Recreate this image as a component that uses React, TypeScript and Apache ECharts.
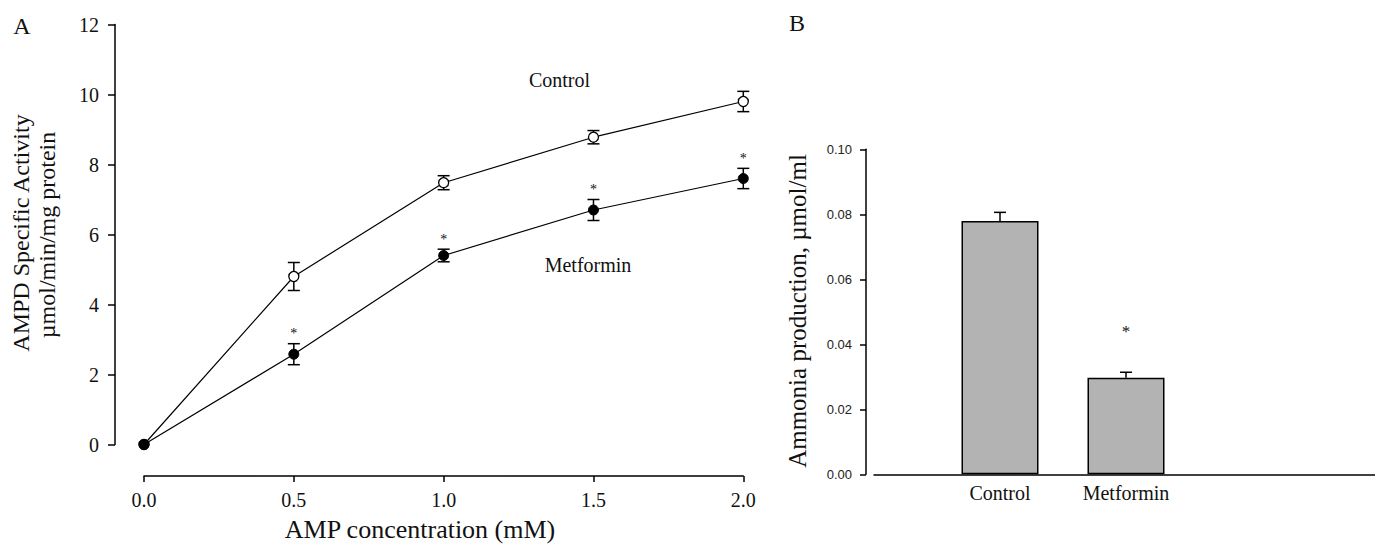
import React, { useEffect, useRef } from "react";
import * as echarts from "echarts";

// ---------- Panel A data ----------
const ampConcentration = [0, 0.5, 1.0, 1.5, 2.0];
const controlActivity = [0, 4.8, 7.48, 8.78, 9.8];
const controlActivitySE = [0, 0.4, 0.2, 0.19, 0.29];
const metforminActivity = [0, 2.58, 5.4, 6.7, 7.6];
const metforminActivitySE = [0, 0.3, 0.18, 0.3, 0.29];
const metforminSignificant = [false, true, true, true, true];

// ---------- Panel B data ----------
const groupsB = ["Control", "Metformin"];
const ammoniaProduction = [0.0779, 0.0297];
const ammoniaSE = [0.0027, 0.0017];
const ammoniaSignificant = [false, true];

const SERIF = "'Liberation Serif', 'Times New Roman', Times, serif";
const SANS = "'Liberation Sans', Arial, Helvetica, sans-serif";
const INK = "#111";

function errorBarsA(params: any, api: any) {
  const x = api.value(0);
  const m = api.value(1);
  const se = api.value(2);
  const sig = api.value(3);
  const top = api.coord([x, m + se]);
  const bot = api.coord([x, m - se]);
  const cap = 6;
  const st = { stroke: "#000", lineWidth: 1.5 };
  const children: any[] = [];
  if (se > 0) {
    children.push({ type: "line", shape: { x1: top[0], y1: top[1], x2: bot[0], y2: bot[1] }, style: st });
    children.push({ type: "line", shape: { x1: top[0] - cap, y1: top[1], x2: top[0] + cap, y2: top[1] }, style: st });
    children.push({ type: "line", shape: { x1: bot[0] - cap, y1: bot[1], x2: bot[0] + cap, y2: bot[1] }, style: st });
  }
  if (sig) {
    children.push({
      type: "text",
      x: top[0],
      y: top[1] - 10,
      style: { text: "*", fontSize: 14, fontFamily: SERIF, fill: INK, align: "center", verticalAlign: "middle" },
    });
  }
  return { type: "group", children };
}

function errorBarsB(params: any, api: any) {
  const x = api.value(0);
  const m = api.value(1);
  const se = api.value(2);
  const sig = api.value(3);
  const base = api.coord([x, m]);
  const top = api.coord([x, m + se]);
  const cap = 6;
  const st = { stroke: "#000", lineWidth: 1.5 };
  const children: any[] = [
    { type: "line", shape: { x1: base[0], y1: base[1], x2: top[0], y2: top[1] }, style: st },
    { type: "line", shape: { x1: top[0] - cap, y1: top[1], x2: top[0] + cap, y2: top[1] }, style: st },
  ];
  if (sig) {
    children.push({
      type: "text",
      x: top[0],
      y: top[1] - 41,
      style: { text: "*", fontSize: 17, fontFamily: SERIF, fill: INK, align: "center", verticalAlign: "middle" },
    });
  }
  return { type: "group", children };
}

export default function App() {
  const ref = useRef<HTMLDivElement>(null);

  useEffect(() => {
    document.body.style.margin = "0";
    if (!ref.current) return;
    const chart = echarts.init(ref.current, null, { renderer: "svg" });

    const serifLabel = { fontFamily: SERIF, fontSize: 20, color: INK };

    const option: any = {
      animation: false,
      backgroundColor: "#fff",
      color: ["#000"],
      grid: [
        { left: 144, top: 24.5, width: 599.3, height: 420, outerBoundsMode: "none" },
        { left: 874, top: 149.3, width: 504, height: 325, outerBoundsMode: "none" },
      ],
      xAxis: [
        {
          type: "value",
          gridIndex: 0,
          min: 0,
          max: 2,
          interval: 0.5,
          offset: 31.5,
          axisLine: { show: true, onZero: false, lineStyle: { color: "#000", width: 1.5 } },
          axisTick: { show: true, length: 6, lineStyle: { color: "#000", width: 1.5 } },
          axisLabel: { ...serifLabel, margin: 14, formatter: (v: number) => v.toFixed(1) },
          splitLine: { show: false },
        },
        {
          type: "value",
          gridIndex: 1,
          min: 0,
          max: 4,
          interval: 1,
          axisLine: { show: true, onZero: false, lineStyle: { color: "#000", width: 1.5 } },
          axisTick: { show: false },
          axisLabel: {
            ...serifLabel,
            margin: 9,
            formatter: (v: number) => (v >= 1 && v <= groupsB.length ? groupsB[v - 1] : ""),
          },
          splitLine: { show: false },
        },
      ],
      yAxis: [
        {
          type: "value",
          gridIndex: 0,
          min: 0,
          max: 12,
          interval: 2,
          offset: 29,
          axisLine: { show: true, onZero: false, lineStyle: { color: "#000", width: 1.5 } },
          axisTick: { show: true, length: 7, lineStyle: { color: "#000", width: 1.5 } },
          axisLabel: { ...serifLabel, margin: 16 },
          splitLine: { show: false },
        },
        {
          type: "value",
          gridIndex: 1,
          min: 0,
          max: 0.1,
          interval: 0.02,
          offset: 8,
          axisLine: { show: true, onZero: false, lineStyle: { color: "#000", width: 1.5 } },
          axisTick: { show: true, length: 6, lineStyle: { color: "#000", width: 1.5 } },
          axisLabel: { fontFamily: SANS, fontSize: 13, color: "#222", margin: 14, formatter: (v: number) => v.toFixed(2) },
          splitLine: { show: false },
        },
      ],
      series: [
        {
          type: "custom",
          xAxisIndex: 0,
          yAxisIndex: 0,
          renderItem: errorBarsA,
          itemStyle: { color: "#000" },
          data: ampConcentration.map((x, i) => [x, controlActivity[i], controlActivitySE[i], 0]),
          encode: { x: 0, y: 1 },
          z: 1,
          silent: true,
        },
        {
          type: "custom",
          xAxisIndex: 0,
          yAxisIndex: 0,
          renderItem: errorBarsA,
          itemStyle: { color: "#000" },
          data: ampConcentration.map((x, i) => [x, metforminActivity[i], metforminActivitySE[i], metforminSignificant[i] ? 1 : 0]),
          encode: { x: 0, y: 1 },
          z: 1,
          silent: true,
        },
        {
          name: "Control",
          type: "line",
          xAxisIndex: 0,
          yAxisIndex: 0,
          data: ampConcentration.map((x, i) => [x, controlActivity[i]]),
          symbol: "circle",
          symbolSize: 10,
          lineStyle: { color: "#000", width: 1.2 },
          itemStyle: { color: "#fff", borderColor: "#000", borderWidth: 1.3 },
          z: 3,
        },
        {
          name: "Metformin",
          type: "line",
          xAxisIndex: 0,
          yAxisIndex: 0,
          data: ampConcentration.map((x, i) => [x, metforminActivity[i]]),
          symbol: "circle",
          symbolSize: 10,
          lineStyle: { color: "#000", width: 1.2 },
          itemStyle: { color: "#000", borderColor: "#000", borderWidth: 1 },
          z: 4,
        },
        {
          type: "bar",
          xAxisIndex: 1,
          yAxisIndex: 1,
          data: groupsB.map((g, i) => [i + 1, ammoniaProduction[i]]),
          barWidth: 77,
          itemStyle: { color: "#b3b3b3", borderColor: "#000", borderWidth: 1.5 },
          z: 2,
        },
        {
          type: "custom",
          xAxisIndex: 1,
          yAxisIndex: 1,
          renderItem: errorBarsB,
          itemStyle: { color: "#000" },
          data: groupsB.map((g, i) => [i + 1, ammoniaProduction[i], ammoniaSE[i], ammoniaSignificant[i] ? 1 : 0]),
          encode: { x: 0, y: 1 },
          z: 3,
          silent: true,
        },
      ],
      graphic: [
        { type: "text", x: 22, y: 26, style: { text: "A", fontSize: 24, fontFamily: SERIF, fill: INK, align: "center", verticalAlign: "middle" } },
        { type: "text", x: 797, y: 23, style: { text: "B", fontSize: 24, fontFamily: SERIF, fill: INK, align: "center", verticalAlign: "middle" } },
        { type: "text", x: 559.5, y: 80, style: { text: "Control", fontSize: 20, fontFamily: SERIF, fill: INK, align: "center", verticalAlign: "middle" } },
        { type: "text", x: 588, y: 265, style: { text: "Metformin", fontSize: 20, fontFamily: SERIF, fill: INK, align: "center", verticalAlign: "middle" } },
        {
          type: "text", x: 21, y: 233, rotation: Math.PI / 2,
          style: { text: "AMPD Specific Activity", fontSize: 24, fontFamily: SERIF, fill: INK, align: "center", verticalAlign: "middle" },
        },
        {
          type: "text", x: 47, y: 235, rotation: Math.PI / 2,
          style: { text: "µmol/min/mg protein", fontSize: 24, fontFamily: SERIF, fill: INK, align: "center", verticalAlign: "middle" },
        },
        {
          type: "text", x: 420, y: 529,
          style: { text: "AMP concentration (mM)", fontSize: 26, fontFamily: SERIF, fill: INK, align: "center", verticalAlign: "middle" },
        },
        {
          type: "text", x: 797, y: 311, rotation: Math.PI / 2,
          style: { text: "Ammonia production, µmol/ml", fontSize: 25, fontFamily: SERIF, fill: INK, align: "center", verticalAlign: "middle" },
        },
      ],
    };

    chart.setOption(option);
    return () => chart.dispose();
  }, []);

  return <div ref={ref} style={{ width: 1375, height: 548 }} />;
}
